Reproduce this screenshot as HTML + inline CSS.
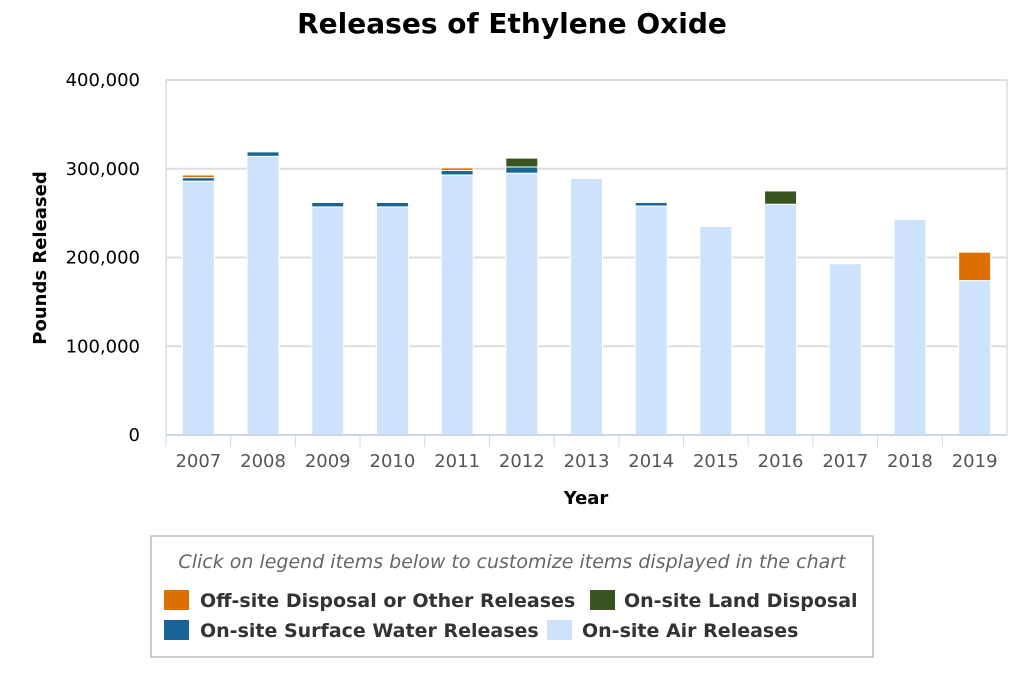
<!DOCTYPE html>
<html><head><meta charset="utf-8"><style>
body{margin:0;background:#fff;font-family:"DejaVu Sans","Liberation Sans",sans-serif;}
</style></head><body>
<svg width="1024" height="683" id="c" font-family="DejaVu Sans, Liberation Sans, sans-serif">
<text x="512" y="33" text-anchor="middle" font-size="28" font-weight="bold" fill="#000">Releases of Ethylene Oxide</text>
<rect x="166" y="80" width="841" height="355" fill="none" stroke="#ccc"/>
<g id="grid"></g><g id="bars"></g><g id="axes"></g>
<text x="586" y="504" text-anchor="middle" font-size="18" font-weight="bold">Year</text>
<text transform="translate(46,258) rotate(-90)" text-anchor="middle" font-size="18" font-weight="bold">Pounds Released</text>
<g>
<rect x="151" y="536" width="722" height="121" fill="#fff" stroke="#999"/>
<text x="512" y="568" text-anchor="middle" font-size="19" font-style="italic" fill="#666">Click on legend items below to customize items displayed in the chart</text>
<g><rect x="164" y="590" width="25" height="20" fill="#dd6e00"/><text x="200" y="607" font-size="19" font-weight="bold" fill="#333">Off-site Disposal or Other Releases</text></g>
<g><rect x="590" y="590" width="25" height="20" fill="#3a5420"/><text x="624" y="607" font-size="19" font-weight="bold" fill="#333">On-site Land Disposal</text></g>
<g><rect x="164" y="620" width="25" height="20" fill="#1a6496"/><text x="200" y="637" font-size="19" font-weight="bold" fill="#333">On-site Surface Water Releases</text></g>
<g><rect x="547" y="620" width="25" height="20" fill="#cde3fb"/><text x="582" y="637" font-size="19" font-weight="bold" fill="#333">On-site Air Releases</text></g>
</g>
</svg>
<script>
const years=["2007","2008","2009","2010","2011","2012","2013","2014","2015","2016","2017","2018","2019"];
const air=[286,314,257,257,293,295,289,258,235,260,193,243,174];
const water=[4,5,5,5,5,7,0,4,0,0,0,0,0];
const land=[0,0,0,0,0,10,0,0,0,15,0,0,0];
const offsite=[3,0,0,0,3,0,0,0,0,0,0,0,32];
const yTicks=[0,100000,200000,300000,400000];
const yTickLabels=["0","100,000","200,000","300,000","400,000"];
const NS="http://www.w3.org/2000/svg";
const X0=166,X1=1007,Y0=435,Y1=80,YMAX=400;
const cw=(X1-X0)/years.length;
const y=v=>Y0-(v/YMAX)*(Y0-Y1);
function mk(t,a,p){const e=document.createElementNS(NS,t);for(const k in a)e.setAttribute(k,a[k]);p.appendChild(e);return e;}
const grid=document.getElementById('grid'),bars=document.getElementById('bars'),axes=document.getElementById('axes');
yTicks.forEach((t,i)=>{const yy=y(t/1000);
 if(i>0){const l=mk('line',{x1:X0,x2:X1,y1:yy,y2:yy,stroke:'#ddd','stroke-width':2},grid);
 
 }
 const tx=mk('text',{x:140,y:yy+6,'text-anchor':'end','font-size':18,fill:'#000'},axes);tx.textContent=yTickLabels[i];
 
 });
const series=[[air,'#cde3fb'],[water,'#1a6496'],[land,'#3a5420'],[offsite,'#dd6e00']];
years.forEach((yr,i)=>{const cx=X0+cw*(i+0.5);let base=0;
 series.forEach(([arr,col])=>{const v=arr[i];if(v>0){const r=mk('rect',{x:cx-16,y:y(base+v),width:32,height:y(base)-y(base+v),fill:col,stroke:'#fff','stroke-width':1},bars);
 
 }base+=v;});
 const t=mk('text',{x:cx,y:467,'text-anchor':'middle','font-size':18,fill:'#555'},axes);t.textContent=yr;
 
 
 const tk=mk('line',{x1:X0+cw*i,x2:X0+cw*i,y1:Y0,y2:Y0+12,stroke:'#ccd6eb'},axes);
 
 });
const ax=mk('line',{x1:X0,x2:X1,y1:Y0,y2:Y0,stroke:'#ccd6eb','stroke-width':2},axes);


</script>
</body></html>
